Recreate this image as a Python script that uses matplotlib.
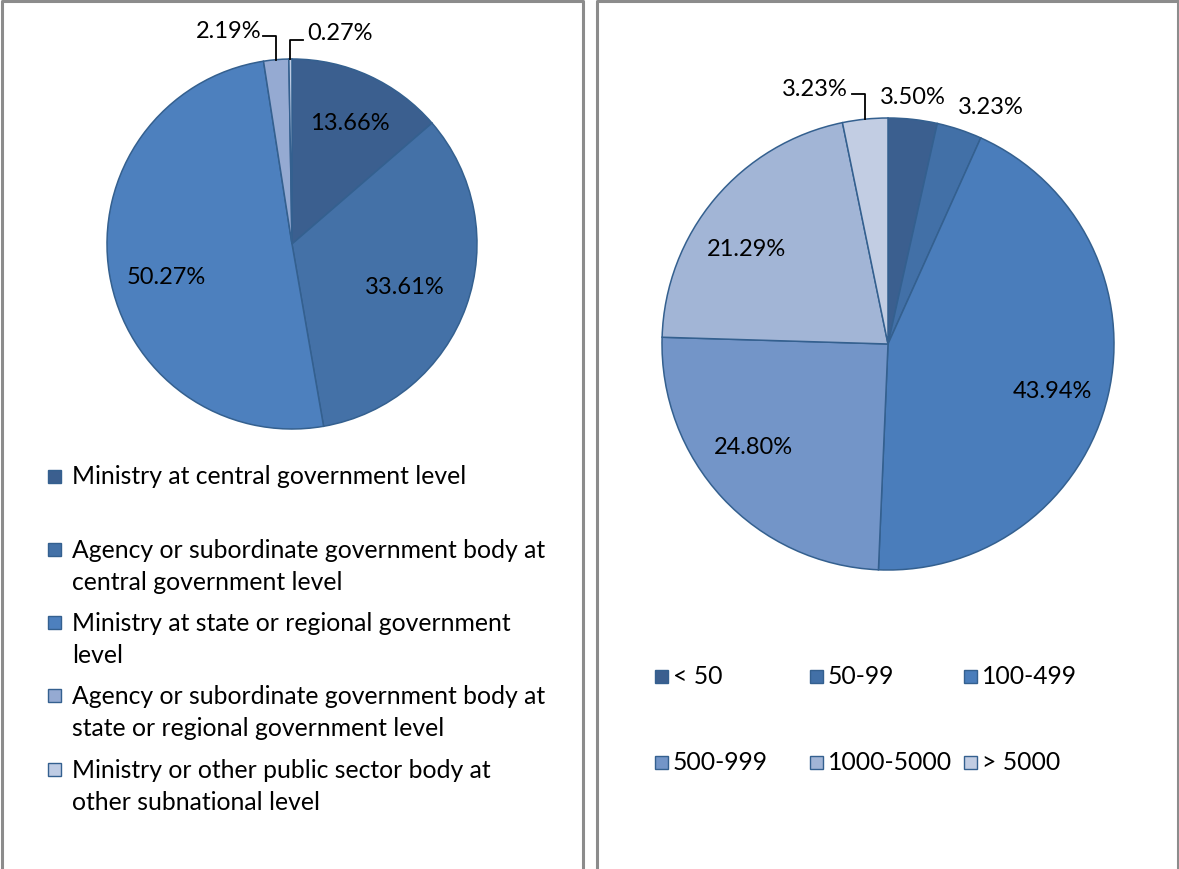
import numpy as np
import matplotlib.pyplot as plt
from matplotlib.patches import Rectangle

plt.rcParams['font.family'] = ['Lato', 'DejaVu Sans']

# Left pie: type of organisation
org_labels = [
    'Ministry at central government level',
    'Agency or subordinate government body at\ncentral government level',
    'Ministry at state or regional government\nlevel',
    'Agency or subordinate government body at\nstate or regional government level',
    'Ministry or other public sector body at\nother subnational level',
]
org_share = [13.66, 33.61, 50.27, 2.19, 0.27]
org_colors = ['#3B5F8F', '#4471A7', '#4D80BE', '#95AAD2', '#BFCCE4']

# Right pie: organisation size (employees)
size_labels = ['< 50', '50-99', '100-499', '500-999', '1000-5000', '> 5000']
size_share = [3.50, 3.23, 43.94, 24.80, 21.29, 3.23]
size_colors = ['#3B5F8F', '#4270A7', '#4A7DBB', '#7395C8', '#A2B5D6', '#C2CDE3']

W, H = 1179, 870
FS = 17
LFS = 17.8
EDGE = '#34608F'

fig = plt.figure(figsize=(W / 100, H / 100), dpi=100)
ax = fig.add_axes([0, 0, 1, 1])


def Y(y):
    # screen pixel rows (top-down) -> data y (bottom-up)
    return H - y


def draw_pie(values, colors, cx, cy, r):
    wedges, _ = ax.pie(values, colors=colors, startangle=90, counterclock=False,
                       center=(cx, Y(cy)), radius=r, frame=True,
                       wedgeprops=dict(edgecolor=EDGE, linewidth=1.1))
    return wedges


def wedge_point(w, frac=1.0):
    ang = np.deg2rad((w.theta1 + w.theta2) / 2)
    cx, cy = w.center
    return cx + w.r * frac * np.cos(ang), cy + w.r * frac * np.sin(ang)


# left pie
lw = draw_pie(org_share, org_colors, 292, 245, 185)
inner = {0: (350, 123), 1: (405, 287), 2: (166, 277)}
for i, (x, y) in inner.items():
    ax.text(x, Y(y), f'{org_share[i]:.2f}%', ha='center', va='center', fontsize=FS)

# small slices with leader lines
px, py = wedge_point(lw[3])
ax.plot([263, px, px], [Y(37), Y(37), py], color='black', lw=1.3)
ax.text(261, Y(32), f'{org_share[3]:.2f}%', ha='right', va='center', fontsize=FS)
px, py = wedge_point(lw[4])
ax.plot([px, px, 303], [py, Y(41), Y(41)], color='black', lw=1.3)
ax.text(307, Y(33), f'{org_share[4]:.2f}%', ha='left', va='center', fontsize=FS)

# right pie
rw = draw_pie(size_share, size_colors, 888, 345, 226)
inner = {0: (913, 97), 1: (991, 108), 2: (1052, 392), 3: (753, 448), 4: (746, 249)}
for i, (x, y) in inner.items():
    ax.text(x, Y(y), f'{size_share[i]:.2f}%', ha='center', va='center', fontsize=FS)
px, py = wedge_point(rw[5])
ax.plot([852, px, px], [Y(95), Y(95), py], color='black', lw=1.3)
ax.text(848, Y(89), f'{size_share[5]:.2f}%', ha='right', va='center', fontsize=FS)


def legend_box(x, y, color):
    ax.add_patch(Rectangle((x, Y(y) - 6.5), 13, 13, facecolor=color,
                           edgecolor=EDGE, linewidth=1.0))


# left legend, one entry per 73 px, 32 px between wrapped lines
for i, (lab, col) in enumerate(zip(org_labels, org_colors)):
    y = 477 + 73.3 * i
    legend_box(48, y, col)
    for j, line in enumerate(lab.split('\n')):
        ax.text(72, Y(y + 32 * j), line, ha='left', va='center', fontsize=LFS)

# right legend, 3 columns x 2 rows
for i, (lab, col) in enumerate(zip(size_labels, size_colors)):
    x = 655 + 154.5 * (i % 3)
    y = 677 + 86 * (i // 3)
    legend_box(x, y, col)
    ax.text(x + 18, Y(y), lab, ha='left', va='center', fontsize=LFS)

# panel frames
frame = dict(color='#8C8C8C', lw=2.2, solid_capstyle='butt')
ax.plot([2, 2, 583, 583], [0, Y(2), Y(2), 0], **frame)
ax.plot([597, 597, 1178, 1178], [0, Y(2), Y(2), 0], **frame)

ax.set_xlim(0, W)
ax.set_ylim(0, H)
ax.set_aspect('equal')
ax.axis('off')

fig.savefig('out.png', dpi=100)
